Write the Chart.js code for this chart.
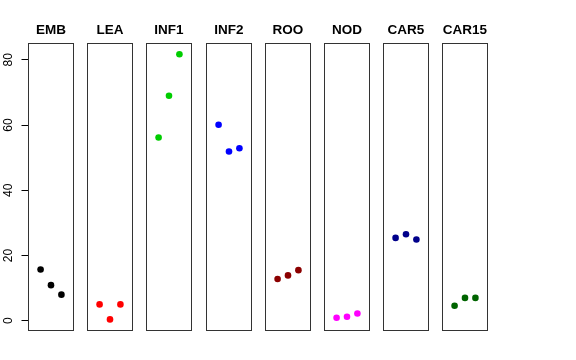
<!DOCTYPE html>
<html>
<head>
<meta charset="utf-8">
<script src="https://cdn.jsdelivr.net/npm/chart.js@4/dist/chart.umd.min.js"></script>
<style>
  html, body { margin: 0; padding: 0; background: #fff; }
  #wrap { position: relative; width: 576px; height: 360px; overflow: hidden; }
  #wrap canvas { position: absolute; top: 0; }
</style>
</head>
<body>
<div id="wrap"></div>
<script>
// Dữ liệu: mỗi nhóm có 3 giá trị
const categories = ['EMB', 'LEA', 'INF1', 'INF2', 'ROO', 'NOD', 'CAR5', 'CAR15'];
const emb = [15.7, 10.9, 8.0];
const lea = [5.0, 0.4, 5.0];
const inf1 = [56.2, 69.0, 81.7];
const inf2 = [60.1, 51.9, 52.9];
const roo = [12.8, 13.9, 15.5];
const nod = [0.9, 1.2, 2.2];
const car5 = [25.4, 26.5, 24.9];
const car15 = [4.6, 7.0, 7.0];
const seriesValues = [emb, lea, inf1, inf2, roo, nod, car5, car15];
const seriesColors = ['#000000', '#FF0000', '#00CD00', '#0000FF', '#8B0000', '#FF00FF', '#00008B', '#006400'];
const yTicks = [0, 20, 40, 60, 80];

const FONT = 'Liberation Sans, Arial, Helvetica, sans-serif';
const Y_MIN = -3, Y_MAX = 85;

// Khung quanh mỗi ô
const framePlugin = {
    id: 'frame',
    afterDatasetsDraw(chart) {
        const { ctx, chartArea: a } = chart;
        ctx.save();
        ctx.strokeStyle = '#333';
        ctx.lineWidth = 1;
        ctx.strokeRect(a.left, a.top, a.right - a.left, a.bottom - a.top);
        ctx.restore();
    }
};

const wrap = document.getElementById('wrap');

function addCanvas(left, w) {
    const canvas = document.createElement('canvas');
    canvas.width = w;
    canvas.height = 360;
    canvas.style.left = left + 'px';
    canvas.style.width = w + 'px';
    canvas.style.height = '360px';
    wrap.appendChild(canvas);
    return canvas;
}

// Trục y dùng chung (canvas riêng bên trái)
new Chart(addCanvas(0, 40), {
    type: 'scatter',
    data: { datasets: [{ data: [] }] },
    options: {
        responsive: false,
        animation: false,
        layout: { padding: { left: 0, right: 0, top: 43.5, bottom: 29.5 } },
        plugins: { legend: { display: false }, tooltip: { enabled: false } },
        scales: {
            x: { type: 'linear', min: 0, max: 1, display: false },
            y: {
                type: 'linear',
                min: Y_MIN,
                max: Y_MAX,
                position: 'left',
                afterBuildTicks: s => { s.ticks = yTicks.map(v => ({ value: v })); },
                afterFit: s => { s.width = 28.5; },
                grid: { drawOnChartArea: false, drawTicks: true, tickLength: 7, color: '#000', lineWidth: 1 },
                border: { display: false },
                ticks: {
                    color: '#000',
                    font: { family: FONT, size: 12 },
                    minRotation: 90,
                    maxRotation: 90,
                    crossAlign: 'center',
                    padding: 6.5
                }
            }
        }
    }
});

// Các ô biểu đồ
categories.forEach((cat, i) => {
    const offset = Math.round(59.2 * i);
    const canvas = addCanvas(11 + offset, 80);
    const vals = seriesValues[i];
    const color = seriesColors[i];

    new Chart(canvas, {
        type: 'scatter',
        data: {
            datasets: [{
                data: vals.map((v, k) => ({ x: k + 1, y: v })),
                backgroundColor: color,
                borderColor: color,
                pointRadius: 3.3,
                pointBorderWidth: 0
            }]
        },
        options: {
            responsive: false,
            animation: false,
            layout: { padding: { left: 17.5, right: 17.5, top: 0, bottom: 29.5 } },
            plugins: {
                legend: { display: false },
                tooltip: { enabled: false },
                title: {
                    display: true,
                    text: cat,
                    color: '#000',
                    font: { family: FONT, size: 13.5, weight: 'bold' },
                    padding: { top: 22.2, bottom: 5.1 }
                }
            },
            scales: {
                x: { type: 'linear', min: -0.16, max: 4.16, display: false },
                y: { type: 'linear', min: Y_MIN, max: Y_MAX, display: false }
            }
        },
        plugins: [framePlugin]
    });
});
</script>
</body>
</html>
